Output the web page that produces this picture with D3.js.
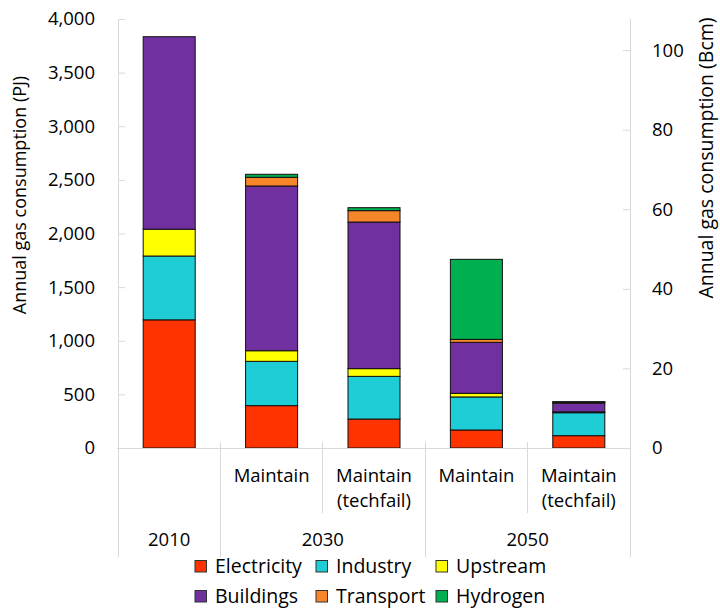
<!DOCTYPE html>
<html>
<head>
<meta charset="utf-8">
<script src="https://cdn.jsdelivr.net/npm/d3@7/dist/d3.min.js"></script>
<style>
  html, body { margin: 0; padding: 0; background: #fff; }
  svg { display: block; font-family: "Open Sans", "Noto Sans", sans-serif; }
  text { fill: #000; }
</style>
</head>
<body>
<svg id="chart" width="720" height="609"></svg>
<script>
// Scenario columns: group year + scenario label
const categories = ["2010", "2030 Maintain", "2030 Maintain (techfail)", "2050 Maintain", "2050 Maintain (techfail)"];
const scenarioLabels = [[], ["Maintain"], ["Maintain", "(techfail)"], ["Maintain"], ["Maintain", "(techfail)"]];
const yearGroups = [
  { year: "2010", from: 0, to: 0 },
  { year: "2030", from: 1, to: 2 },
  { year: "2050", from: 3, to: 4 }
];

// Annual gas consumption by sector (PJ)
const sectors = ["Electricity", "Industry", "Upstream", "Buildings", "Transport", "Hydrogen"];
const electricity = [1195, 395, 270, 168, 115];
const industry    = [595, 413, 398, 308, 214];
const upstream    = [250, 99, 72, 34, 8];
const buildings   = [1795, 1536, 1367, 475, 82];
const transport   = [0, 81, 106, 28, 10];
const hydrogen    = [0, 28, 28, 746, 3];

const leftTicks = [0, 500, 1000, 1500, 2000, 2500, 3000, 3500, 4000];
const rightTicks = [0, 20, 40, 60, 80, 100];
const PJ_PER_BCM = 37.1;

const colors = {
  Electricity: "#FF3300",
  Industry: "#1ECDD5",
  Upstream: "#FFFF00",
  Buildings: "#7030A0",
  Transport: "#F7862A",
  Hydrogen: "#00B050"
};

const series = { Electricity: electricity, Industry: industry, Upstream: upstream,
                 Buildings: buildings, Transport: transport, Hydrogen: hydrogen };
const table = categories.map((c, i) => {
  const row = { category: c };
  sectors.forEach(s => row[s] = series[s][i]);
  return row;
});

const svg = d3.select("#chart");
const plotL = 118, plotR = 630, plotT = 19, plotB = 448;
const grid = "#d9d9d9";

const x = d3.scaleBand().domain(categories).range([plotL, plotR]).paddingInner(0.492).paddingOuter(0.246);
const y = d3.scaleLinear().domain([0, 4000]).range([plotB, plotT]);
const y2 = d3.scaleLinear().domain([0, 4000 / PJ_PER_BCM]).range([plotB, plotT]);

// Stacked bars
const stacked = d3.stack().keys(sectors)(table);
svg.append("g").selectAll("g").data(stacked).join("g")
  .attr("fill", d => colors[d.key])
  .selectAll("rect").data(d => d.filter(p => p[1] - p[0] > 0)).join("rect")
  .attr("x", d => x(d.data.category))
  .attr("width", x.bandwidth())
  .attr("y", d => y(d[1]))
  .attr("height", d => y(d[0]) - y(d[1]))
  .attr("stroke", "#111")
  .attr("stroke-width", 1);

// Left axis
const gl = svg.append("g").attr("transform", `translate(${plotL},0)`)
  .call(d3.axisLeft(y).tickValues(leftTicks).tickFormat(d3.format(",")).tickSize(-7).tickPadding(23));
gl.select(".domain").remove();
gl.selectAll(".tick line").attr("stroke", grid);
gl.selectAll(".tick text").attr("font-size", 18.5).attr("font-family", "Open Sans").attr("fill", "#000");

// Right axis (Bcm)
const gr = svg.append("g").attr("transform", `translate(${plotR},0)`)
  .call(d3.axisRight(y2).tickValues(rightTicks).tickSize(-7).tickPadding(22));
gr.select(".domain").remove();
gr.selectAll(".tick line").attr("stroke", grid);
gr.selectAll(".tick text").attr("font-size", 18.5).attr("font-family", "Open Sans").attr("fill", "#000");

// Frame lines: vertical axes run down through the category label area
const lines = svg.append("g").attr("stroke", grid).attr("stroke-width", 1).attr("shape-rendering", "crispEdges");
lines.append("line").attr("x1", plotL).attr("x2", plotL).attr("y1", plotT).attr("y2", 557);
lines.append("line").attr("x1", plotR).attr("x2", plotR).attr("y1", plotT).attr("y2", 557);
lines.append("line").attr("x1", plotL - 1).attr("x2", plotR).attr("y1", plotB).attr("y2", plotB);

// Dividers between columns: long ones between years, short ones between scenarios
categories.slice(1).forEach((c, i) => {
  const xd = x(c) - x.step() * x.paddingInner() / 2;
  const isGroupEdge = yearGroups.some(g => g.from === i + 1);
  lines.append("line").attr("x1", xd).attr("x2", xd)
    .attr("y1", plotB - 6).attr("y2", isGroupEdge ? 557 : 513);
});

// Scenario labels
const lab = svg.append("g").attr("font-size", 18.5).attr("text-anchor", "middle");
categories.forEach((c, i) => {
  scenarioLabels[i].forEach((t, j) => {
    lab.append("text").attr("x", x(c) + x.bandwidth() / 2).attr("y", 481.5 + j * 25.5).text(t);
  });
});
// Year labels
yearGroups.forEach(g => {
  const cx = (x(categories[g.from]) + x(categories[g.to]) + x.bandwidth()) / 2;
  lab.append("text").attr("x", cx).attr("y", 546).text(g.year);
});

// Axis titles
svg.append("text").attr("transform", "translate(26,195) rotate(-90)")
  .attr("text-anchor", "middle").attr("font-size", 18).text("Annual gas consumption (PJ)");
svg.append("text").attr("transform", "translate(713,158) rotate(-90)")
  .attr("text-anchor", "middle").attr("font-size", 19.5).text("Annual gas consumption (Bcm)");

// Legend: two rows of three
const legX = [195, 316, 436];
const legY = [573, 603];
const leg = svg.append("g").attr("font-size", 19.5);
sectors.forEach((s, i) => {
  const gx = legX[i % 3], gy = legY[Math.floor(i / 3)];
  leg.append("rect").attr("x", gx).attr("y", gy - 12.5).attr("width", 11.5).attr("height", 11.5)
    .attr("fill", colors[s]).attr("stroke", "#333").attr("stroke-width", 1);
  leg.append("text").attr("x", gx + 20).attr("y", gy).text(s);
});
</script>
</body>
</html>
